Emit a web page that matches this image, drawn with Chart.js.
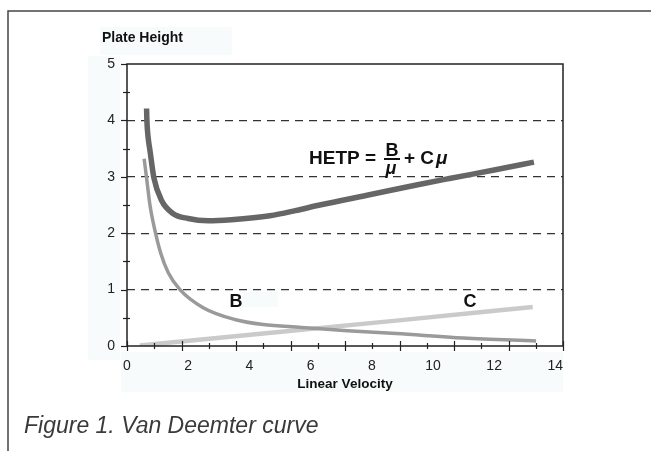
<!DOCTYPE html>
<html>
<head>
<meta charset="utf-8">
<script src="https://cdn.jsdelivr.net/npm/chart.js@4.4.1/dist/chart.umd.min.js"></script>
<style>
  html, body { margin: 0; padding: 0; background: #fff; }
  #wrap { width: 651px; height: 451px; position: relative; }
</style>
</head>
<body>
<div id="wrap"><canvas id="myChart" width="651" height="451"></canvas></div>
<script>
// values (linear velocity u vs plate height)
var hetpU = [0.64, 0.65, 0.69, 0.75, 0.88, 1.13, 1.5, 2.0, 2.65, 3.41, 4.67, 5.5, 6.3, 8.0, 9.5, 10.54, 12.0, 13.3];
var hetpH = [4.21, 4.0, 3.7, 3.47, 2.98, 2.58, 2.35, 2.26, 2.22, 2.24, 2.31, 2.4, 2.5, 2.69, 2.86, 2.97, 3.12, 3.26];

var bU = [0.56, 0.64, 0.75, 0.9, 1.1, 1.35, 1.73, 2.49, 3.52, 4.45, 5.7, 7.2, 8.8, 11.0, 13.37];
var bH = [3.32, 2.98, 2.5, 2.08, 1.65, 1.3, 1.0, 0.68, 0.47, 0.38, 0.33, 0.27, 0.22, 0.14, 0.09];

var cU = [0.42, 4.45, 8.8, 13.26];
var cH = [0.01, 0.22, 0.45, 0.69];

var xMax = 14.25;
var yMax = 5;
var dashedLevels = [1, 2, 3, 4];

function pts(us, hs) {
    var out = [];
    for (var i = 0; i < us.length; i++) out.push({x: us[i], y: hs[i]});
    return out;
}

var FONT = '"Liberation Sans", Arial, Helvetica, sans-serif';

// frame, tick marks, labels and caption
var decor = {
    id: 'decor',
    beforeDraw: function(chart) {
        var ctx = chart.ctx;
        ctx.save();
        ctx.fillStyle = '#fff';
        ctx.fillRect(0, 0, chart.width, chart.height);
        // faint scan patches
        ctx.fillStyle = '#f8fbfb';
        ctx.fillRect(100, 27, 132, 28);
        ctx.fillRect(88, 56, 32, 304);
        ctx.fillRect(121, 352, 442, 40);
        ctx.fillRect(243, 292, 35, 15);
        ctx.restore();
    },
    afterDraw: function(chart) {
        var ctx = chart.ctx;
        var a = chart.chartArea;
        var xs = chart.scales.x, ys = chart.scales.y;
        ctx.save();

        // outer frame
        ctx.strokeStyle = '#444';
        ctx.lineWidth = 1.5;
        ctx.beginPath();
        ctx.moveTo(8, 451);
        ctx.lineTo(8, 11);
        ctx.lineTo(651, 11);
        ctx.stroke();

        // plot box
        ctx.strokeStyle = '#222';
        ctx.lineWidth = 1.5;
        ctx.beginPath();
        ctx.moveTo(a.left, a.bottom);
        ctx.lineTo(a.left, a.top);
        ctx.lineTo(a.right, a.top);
        ctx.lineTo(a.right, a.bottom);
        ctx.lineTo(a.left, a.bottom);
        ctx.stroke();

        // y tick marks
        ctx.lineWidth = 1.2;
        for (var v = 0; v <= yMax; v += 0.5) {
            var py = Math.round(ys.getPixelForValue(v)) + 0.5;
            var major = (v % 1 === 0);
            ctx.beginPath();
            ctx.moveTo(a.left - (major ? 6 : 4), py);
            ctx.lineTo(a.left + (major ? 0 : 3), py);
            ctx.stroke();
        }
        // x tick marks
        for (var i = 0; i <= 16; i++) {
            var px = Math.round(xs.getPixelForValue(i * xMax / 16)) + 0.5;
            var big = (i % 2 === 0);
            ctx.beginPath();
            ctx.moveTo(px, a.bottom - (big ? 5 : 3));
            ctx.lineTo(px, a.bottom + (big ? 5 : 3));
            ctx.stroke();
        }

        ctx.fillStyle = '#111';
        ctx.textBaseline = 'alphabetic';
        ctx.textAlign = 'left';
        ctx.font = 'bold 14px ' + FONT;
        ctx.fillText('Plate Height', 102, 42);

        ctx.textAlign = 'center';
        ctx.font = 'bold 13.5px ' + FONT;
        ctx.fillText('Linear Velocity', (a.left + a.right) / 2, 388);

        ctx.font = 'bold 18px ' + FONT;
        ctx.fillText('B', 236, 307);
        ctx.fillText('C', 470, 307);

        // HETP formula
        ctx.textAlign = 'left';
        ctx.font = 'bold 19px ' + FONT;
        ctx.fillText('HETP =', 309, 164);
        ctx.textAlign = 'center';
        ctx.font = 'bold 18px ' + FONT;
        ctx.fillText('B', 392, 156);
        ctx.lineWidth = 2;
        ctx.strokeStyle = '#111';
        ctx.beginPath();
        ctx.moveTo(384, 159);
        ctx.lineTo(400, 159);
        ctx.stroke();
        ctx.font = 'italic bold 18px ' + FONT;
        ctx.fillText('\u03bc', 391, 174);
        ctx.textAlign = 'left';
        ctx.font = 'bold 19px ' + FONT;
        ctx.fillText('+ C', 404, 164);
        ctx.font = 'italic bold 19px ' + FONT;
        ctx.fillText('\u03bc', 436, 164);

        // caption
        ctx.fillStyle = '#3a3a3a';
        ctx.font = 'italic 23px ' + FONT;
        ctx.fillText('Figure 1. Van Deemter curve', 24, 433);

        ctx.restore();
    }
};

const data = {
    datasets: [
        {
            label: 'HETP',
            data: pts(hetpU, hetpH),
            borderColor: '#666666',
            borderWidth: 5.5,
        },
        {
            label: 'B',
            data: pts(bU, bH),
            borderColor: '#9a9a9a',
            borderWidth: 3.5,
        },
        {
            label: 'C',
            data: pts(cU, cH),
            borderColor: '#cacaca',
            borderWidth: 4.5,
        },
    ],
};

const config = {
    type: 'line',
    data: data,
    plugins: [decor],
    options: {
        responsive: false,
        animation: false,
        events: [],
        layout: { padding: { left: 0, top: 64, right: 88, bottom: 0 } },
        elements: {
            point: { radius: 0 },
            line: { tension: 0.4, cubicInterpolationMode: 'monotone', fill: false, borderCapStyle: 'butt' }
        },
        plugins: {
            legend: { display: false },
            tooltip: { enabled: false }
        },
        scales: {
            x: {
                type: 'linear',
                min: 0,
                max: xMax,
                afterFit: function(s) { s.height = 105; },
                grid: { display: false, drawTicks: false },
                border: { display: false },
                ticks: {
                    stepSize: 2,
                    includeBounds: false,
                    padding: 12,
                    color: '#222',
                    font: { family: FONT, size: 14 },
                    maxRotation: 0
                }
            },
            y: {
                min: 0,
                max: yMax,
                afterFit: function(s) { s.width = 127; },
                grid: {
                    drawTicks: false,
                    lineWidth: 1.2,
                    color: function(c) {
                        return dashedLevels.indexOf(c.tick && c.tick.value) >= 0 ? '#333' : 'rgba(0,0,0,0)';
                    }
                },
                border: { display: false, dash: [8, 6] },
                ticks: {
                    stepSize: 1,
                    padding: 12,
                    color: '#222',
                    font: { family: FONT, size: 14 }
                }
            }
        }
    },
};

const myChart = new Chart(document.getElementById('myChart'), config);
</script>
</body>
</html>
